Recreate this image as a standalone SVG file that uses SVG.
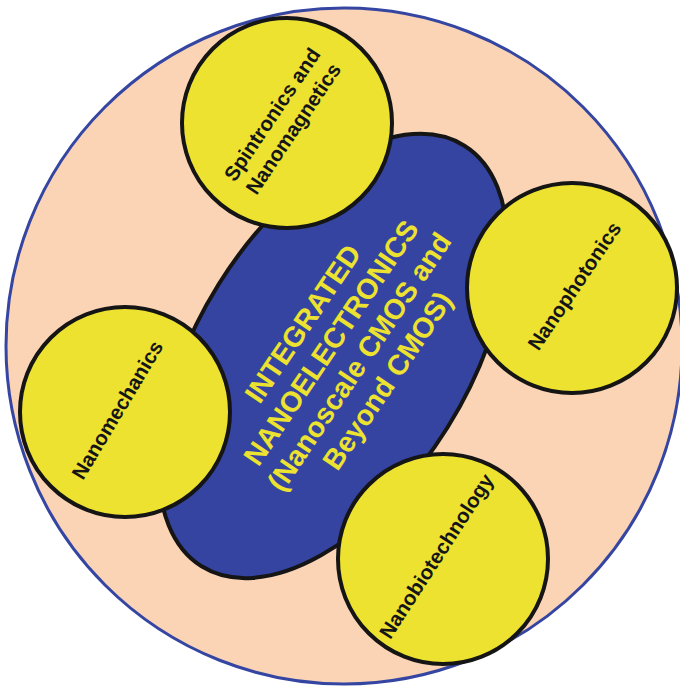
<svg xmlns="http://www.w3.org/2000/svg" width="680" height="690" viewBox="0 0 680 690">
<style>
.bg{fill:#FBD4B6;stroke:#3546A2;stroke-width:3}
.core{fill:#3444A0;stroke:#151515;stroke-width:4}
.sat{fill:#ECE22F;stroke:#151515;stroke-width:4}
.lbl{font-family:"Liberation Sans",Arial,sans-serif;font-weight:bold;font-size:20.5px;fill:#151515;text-anchor:middle}
.ctr{font-family:"Liberation Sans",Arial,sans-serif;font-weight:bold;font-size:28.5px;fill:#ECE22F;text-anchor:middle}
</style>
<rect width="680" height="690" fill="#FFFFFF"/>
<g id="outer">
<circle class="bg" cx="344" cy="346" r="338"/>
</g>
<g id="connectors"></g>
<g id="core">
<ellipse class="core" cx="333" cy="356" rx="248" ry="135" transform="rotate(-58 333 356)"/>
<g transform="rotate(-56 345 352)">
<text class="ctr" x="345" y="311">INTEGRATED</text>
<text class="ctr" x="345" y="345">NANOELECTRONICS</text>
<text class="ctr" x="345" y="379">(Nanoscale CMOS and</text>
<text class="ctr" x="345" y="413">Beyond CMOS)</text>
</g>
</g>
<g id="spintronics">
<circle class="sat" cx="287" cy="123" r="105"/>
<g transform="rotate(-56 282.5 121.5)">
<text class="lbl" x="282.5" y="116">Spintronics and</text>
<text class="lbl" x="282.5" y="141.5">Nanomagnetics</text>
</g>
</g>
<g id="nanophotonics">
<circle class="sat" cx="572" cy="288" r="105"/>
<text class="lbl" x="574.5" y="293" transform="rotate(-56 574.5 286)">Nanophotonics</text>
</g>
<g id="nanomechanics">
<circle class="sat" cx="125" cy="412" r="105"/>
<text class="lbl" x="117.5" y="417" transform="rotate(-59 117.5 410)">Nanomechanics</text>
</g>
<g id="nanobiotechnology">
<circle class="sat" cx="443" cy="559" r="105"/>
<text class="lbl" x="438.5" y="562" transform="rotate(-57 438.5 557.5)">Nanobiotechnology</text>
</g>
</svg>
